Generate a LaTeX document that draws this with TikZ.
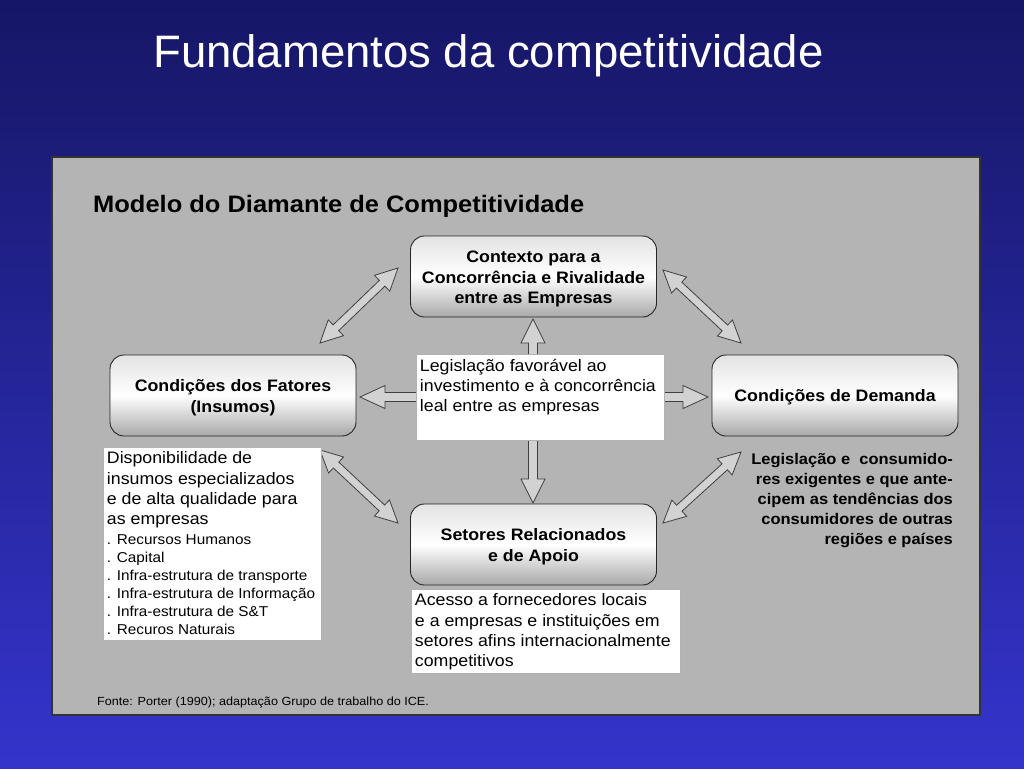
\documentclass[tikz,border=0pt]{standalone}
\usepackage{fontspec}
\setmainfont{Liberation Sans}[FakeStretch=1.07]
\newfontfamily\titlefont{Liberation Sans}
\usetikzlibrary{calc}
\definecolor{bgtop}{RGB}{22,22,102}
\definecolor{bgbot}{RGB}{52,52,204}
\definecolor{panelgray}{RGB}{180,180,180}
\definecolor{arrfill}{RGB}{210,210,210}
\newcommand\dblarr[5]{%
 \coordinate (ba1) at ($(#1)!#3!(#2)$);
 \coordinate (ba2) at ($(#2)!#3!(#1)$);
 \draw[blockarr] (#1) -- ($(ba1)!#4!90:(#2)$) -- ($(ba1)!#5!90:(#2)$) -- ($(ba2)!#5!-90:(#1)$) -- ($(ba2)!#4!-90:(#1)$) -- (#2) -- ($(ba2)!#4!90:(#1)$) -- ($(ba2)!#5!90:(#1)$) -- ($(ba1)!#5!-90:(#2)$) -- ($(ba1)!#4!-90:(#2)$) -- cycle;}
\tikzset{
 rbox/.style={draw=black!85, line width=0.9pt, rounded corners=14pt, top color=gray!22, bottom color=gray!68, middle color=white, minimum width=246pt, minimum height=81pt, inner sep=0pt},
 rtext/.style={font=\bfseries\fontsize{16.6}{20.5}\selectfont, align=center, inner sep=0pt},
 wbox/.style={draw=gray!60, fill=white, line width=0.5pt, inner sep=0pt},
 btext/.style={anchor=north west, align=left, inner xsep=4pt, inner ysep=5pt, font=\fontsize{16.6}{20.3}\selectfont},
 stext/.style={anchor=north west, align=left, inner xsep=4pt, inner ysep=0pt, font=\fontsize{14.3}{18}\selectfont},
 blockarr/.style={draw=black!75, line width=0.8pt, fill=arrfill, line join=miter},
}
\begin{document}
\begin{tikzpicture}[x=1pt,y=-1pt]
\useasboundingbox (0,0) rectangle (1024,768);
\shade[top color=bgtop, bottom color=bgbot] (0,0) rectangle (1024,768);
\node[anchor=base west, text=white, font=\titlefont\fontsize{45.5}{50}\selectfont, inner sep=0pt] (title) at (153,67) {Fundamentos da competitividade};
\draw[fill=panelgray, draw=black!80, line width=1.5pt] (52,157) rectangle (980,715);
\node[anchor=base west, font=\bfseries\fontsize{23.8}{28}\selectfont, inner sep=0pt] (header) at (93,212.5) {Modelo do Diamante de Competitividade};
% arrow end points
\coordinate (tla) at (320,343); \coordinate (tlb) at (398,268);
\coordinate (tra) at (663,270); \coordinate (trb) at (741,343);
\coordinate (bla) at (320,450); \coordinate (blb) at (398,523);
\coordinate (bra) at (663,523); \coordinate (brb) at (741,452);
\coordinate (va) at (533,319); \coordinate (vb) at (533,503);
\coordinate (ha) at (360,397); \coordinate (hb) at (708,397);
\dblarr{tla}{tlb}{22pt}{11pt}{4pt}
\dblarr{tra}{trb}{22pt}{11pt}{4pt}
\dblarr{bla}{blb}{22pt}{11pt}{4pt}
\dblarr{bra}{brb}{22pt}{11pt}{4pt}
\dblarr{va}{vb}{24pt}{12pt}{4.5pt}
\dblarr{ha}{hb}{25pt}{11.5pt}{4.5pt}
% boxes
\node[rbox] (ctx) at (533.5,276.5) {};
\node[rtext] (ctxt) at (533.5,279) {Contexto para a\\Concorrência e Rivalidade\\entre as Empresas};
\node[rbox] (fat) at (233,395.5) {};
\node[rtext] (fatt) at (233,397.5) {Condições dos Fatores\\(Insumos)};
\node[rbox] (dem) at (835,395.5) {};
\node[rtext] (demt) at (835,397.5) {Condições de Demanda};
\node[rbox] (set) at (533.5,544.5) {};
\node[rtext] (sett) at (533.5,546.5) {Setores Relacionados\\e de Apoio};
% center white box
\node[wbox, minimum width=248pt, minimum height=86pt] (cb) at (540,397) {};
\node[btext] (cbt) at (cb.north west) {Legislação favorável ao\\investimento e à concorrência\\leal entre as empresas};
% left white box
\node[wbox, minimum width=218pt, minimum height=193pt] (lb) at (212,543.5) {};
\node[btext] (lbt) at (lb.north west) {Disponibilidade de\\insumos especializados\\e de alta qualidade para\\as empresas};
\node[stext] (lbs) at ($(lb.north west)+(0,88)$) {. Recursos Humanos\\. Capital\\. Infra-estrutura de transporte\\. Infra-estrutura de Informação\\. Infra-estrutura de S\&T\\. Recuros Naturais};
% bottom white box
\node[wbox, minimum width=269pt, minimum height=84pt] (bb) at (545.5,631) {};
\node[btext] (bbt) at (bb.north west) {Acesso a fornecedores locais\\e a empresas e instituições em\\setores afins internacionalmente\\competitivos};
% right text
\node[anchor=north east, align=right, inner sep=0pt, font=\bfseries\fontsize{15.4}{20}\selectfont] (rt) at (953,453.5) {Legislação e \ consumido-\\res exigentes e que ante-\\cipem as tendências dos\\consumidores de outras\\regiões e países};
\node[anchor=base west, inner sep=0pt, font=\fontsize{11.8}{14}\selectfont] (src) at (97,705) {Fonte: Porter (1990); adaptação Grupo de trabalho do ICE.};
\end{tikzpicture}
\end{document}
